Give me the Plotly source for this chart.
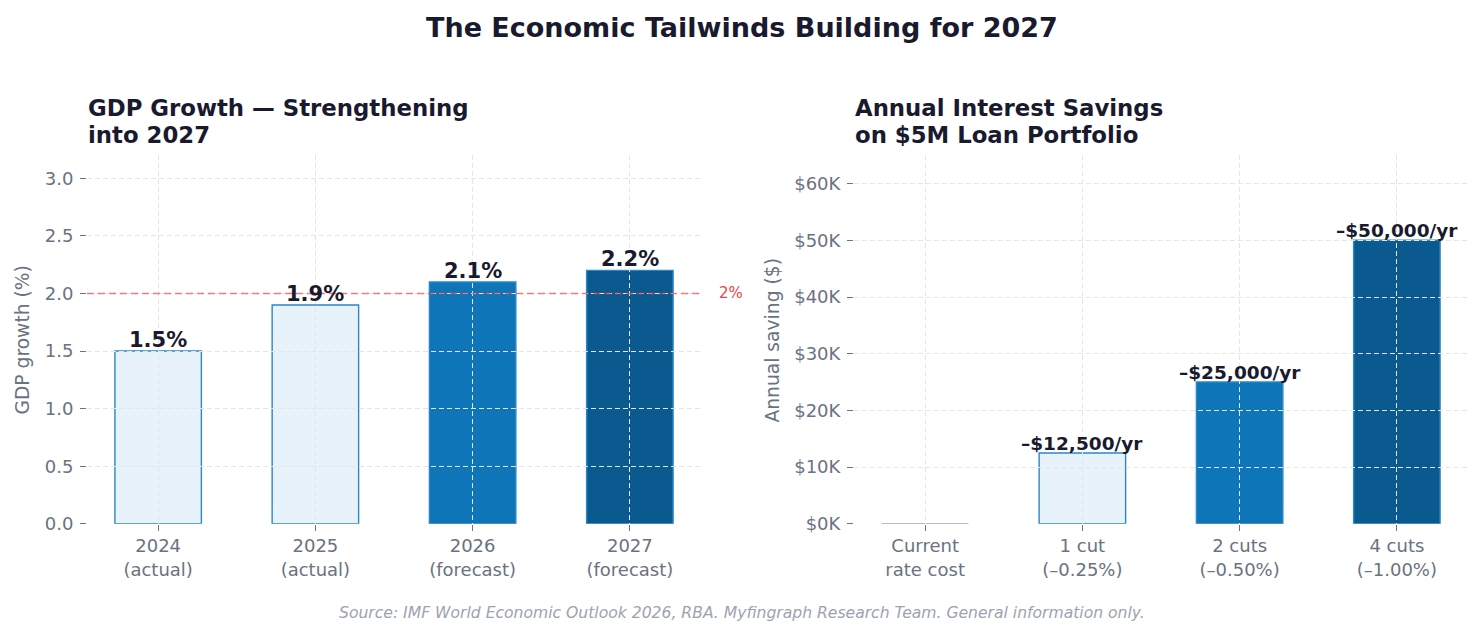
import plotly.graph_objects as go

# ---------------- data ----------------
gdp_categories = ["2024<br>(actual)", "2025<br>(actual)", "2026<br>(forecast)", "2027<br>(forecast)"]
gdp_values = [1.5, 1.9, 2.1, 2.2]
gdp_target = 2.0
gdp_yticks = [0.0, 0.5, 1.0, 1.5, 2.0, 2.5, 3.0]
gdp_yrange = [0, 3.2]

saving_categories = ["Current<br>rate cost", "1 cut<br>(\u20130.25%)", "2 cuts<br>(\u20130.50%)", "4 cuts<br>(\u20131.00%)"]
saving_values = [0, 12500, 25000, 50000]
saving_yticks = [0, 10000, 20000, 30000, 40000, 50000, 60000]
saving_yrange = [0, 65000]

suptitle = "The Economic Tailwinds Building for 2027"
left_title_lines = ["GDP Growth \u2014 Strengthening", "into 2027"]
right_title_lines = ["Annual Interest Savings", "on $5M Loan Portfolio"]
source_text = "Source: IMF World Economic Outlook 2026, RBA. Myfingraph Research Team. General information only."

# ---------------- styles ----------------
W, H = 1483, 635
FIG_H = 646
FONT = "DejaVu Sans"
DARK = "#1a1a2e"
GRAY = "#6b7280"
LIGHTGRAY = "#9ca3af"
GRID = "#e3e5ea"
RED = "#ef4444"
EDGE = "#2b87c9"
gdp_fill = ["#e8f2fb", "#e8f2fb", "#0e75b8", "#0a5a8f"]
saving_fill = ["#d1d5db", "#e8f2fb", "#0e75b8", "#0a5a8f"]
saving_edge = [LIGHTGRAY, EDGE, EDGE, EDGE]

def px_x(p):
    return p / W

def px_y(p):
    return 1 - p / H

left_dom = [px_x(87), px_x(701)]
right_dom = [px_x(854), px_x(1468)]
y_dom = [px_y(523), px_y(155)]

fig = go.Figure()

fig.add_trace(go.Bar(
    x=gdp_categories, y=gdp_values, width=0.55,
    marker=dict(color=gdp_fill, line=dict(color=EDGE, width=1.4)),
    xaxis="x", yaxis="y", showlegend=False, hoverinfo="skip",
))
fig.add_trace(go.Bar(
    x=saving_categories, y=saving_values, width=0.55,
    marker=dict(color=saving_fill, line=dict(color=saving_edge, width=1.4)),
    xaxis="x2", yaxis="y2", showlegend=False, hoverinfo="skip",
))
# invisible traces for grid-overlay subplots (grid drawn above bars)
fig.add_trace(go.Scatter(x=gdp_categories, y=gdp_values, mode="markers",
                         marker=dict(opacity=0), xaxis="x3", yaxis="y3",
                         showlegend=False, hoverinfo="skip"))
fig.add_trace(go.Scatter(x=saving_categories, y=saving_values, mode="markers",
                         marker=dict(opacity=0), xaxis="x4", yaxis="y4",
                         showlegend=False, hoverinfo="skip"))

tickfont = dict(family=FONT, size=18, color=GRAY)
base_x = dict(type="category", showgrid=False, zeroline=False, showline=False,
              ticks="outside", ticklen=6, tickwidth=1.3, tickcolor=GRAY,
              tickfont=tickfont, range=[-0.4525, 3.4525], fixedrange=True)
base_y = dict(showgrid=False, zeroline=False, showline=False,
              ticks="outside", ticklen=6, tickwidth=1.3, tickcolor=GRAY,
              tickfont=tickfont, fixedrange=True, ticklabelstandoff=3)
grid_x = dict(type="category", showgrid=True, gridcolor=GRID, griddash="5px,3px", gridwidth=1.3,
              zeroline=False, showline=False, showticklabels=False, ticks="",
              range=[-0.4525, 3.4525], fixedrange=True)
grid_y = dict(showgrid=True, gridcolor=GRID, griddash="5px,3px", gridwidth=1.3,
              zeroline=False, showline=False, showticklabels=False, ticks="", fixedrange=True)

fig.update_layout(
    xaxis=dict(base_x, domain=left_dom, anchor="y"),
    yaxis=dict(base_y, domain=y_dom, anchor="x", range=gdp_yrange,
               tickvals=gdp_yticks, ticktext=[f"{v:.1f}" for v in gdp_yticks]),
    xaxis2=dict(base_x, domain=right_dom, anchor="y2"),
    yaxis2=dict(base_y, domain=y_dom, anchor="x2", range=saving_yrange,
                tickvals=saving_yticks, ticktext=[f"${v // 1000}K" for v in saving_yticks]),
    xaxis3=dict(grid_x, domain=left_dom, anchor="y3"),
    yaxis3=dict(grid_y, domain=y_dom, anchor="x3", range=gdp_yrange, tickvals=gdp_yticks),
    xaxis4=dict(grid_x, domain=right_dom, anchor="y4"),
    yaxis4=dict(grid_y, domain=y_dom, anchor="x4", range=saving_yrange, tickvals=saving_yticks),
)

# target reference line
fig.add_shape(type="line", xref="x domain", yref="y", x0=0, x1=1, y0=gdp_target, y1=gdp_target,
              line=dict(color="rgba(239,68,68,0.68)", width=1.6, dash="7px,4px"), layer="above")
fig.add_annotation(xref="x domain", yref="y", x=1.026, y=gdp_target, text=f"{gdp_target:g}%",
                   showarrow=False, xanchor="left", yanchor="middle",
                   font=dict(family=FONT, size=15, color=RED))

# bar value labels
for c, v in zip(gdp_categories, gdp_values):
    fig.add_annotation(xref="x", yref="y", x=c, y=v, text=f"<b>{v}%</b>", showarrow=False,
                       xanchor="center", yanchor="bottom", yshift=-3,
                       font=dict(family=FONT, size=21, color=DARK))
for c, v in zip(saving_categories, saving_values):
    if v > 0:
        fig.add_annotation(xref="x2", yref="y2", x=c, y=v, text=f"<b>\u2013${v:,.0f}/yr</b>",
                           showarrow=False, xanchor="center", yanchor="bottom", yshift=-3,
                           font=dict(family=FONT, size=18.5, color=DARK))

# titles
fig.add_annotation(xref="paper", yref="paper", x=0.5, y=px_y(27),
                   text=f"<b>{suptitle}</b>", showarrow=False,
                   xanchor="center", yanchor="middle", font=dict(family=FONT, size=27, color=DARK))
for x0, lines in ((86, left_title_lines), (853, right_title_lines)):
    for i, line in enumerate(lines):
        fig.add_annotation(xref="paper", yref="paper", x=px_x(x0), y=px_y(108 + 27 * i),
                           text=f"<b>{line}</b>", showarrow=False,
                           xanchor="left", yanchor="middle", align="left",
                           font=dict(family=FONT, size=22.8, color=DARK))
# axis titles
fig.add_annotation(xref="paper", yref="paper", x=px_x(23), y=px_y(340), text="GDP growth (%)",
                   textangle=-90, showarrow=False, xanchor="center", yanchor="middle",
                   font=dict(family=FONT, size=18.7, color=GRAY))
fig.add_annotation(xref="paper", yref="paper", x=px_x(773), y=px_y(340), text="Annual saving ($)",
                   textangle=-90, showarrow=False, xanchor="center", yanchor="middle",
                   font=dict(family=FONT, size=18.7, color=GRAY))
# source
fig.add_annotation(xref="paper", yref="paper", x=0.5, y=px_y(612),
                   text=f"<i>{source_text}</i>",
                   showarrow=False, xanchor="center", yanchor="middle",
                   font=dict(family=FONT, size=15.6, color=LIGHTGRAY))

fig.update_layout(
    width=W, height=FIG_H, margin=dict(l=0, r=0, t=0, b=0),
    paper_bgcolor="white", plot_bgcolor="rgba(0,0,0,0)",
    bargap=0.45, font=dict(family=FONT),
)

fig.write_html("out.html", config={"displayModeBar": False},
               post_script="document.body.style.margin='0';document.body.style.overflow='hidden';")
